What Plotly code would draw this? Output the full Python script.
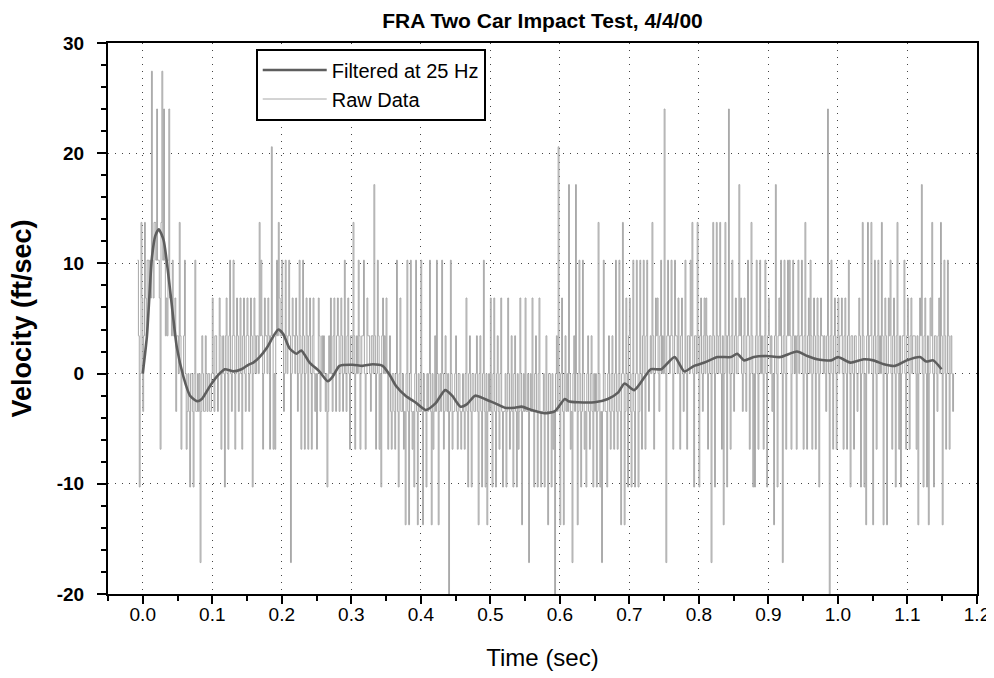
import plotly.graph_objects as go

# ---------------- data ----------------
title_text = "FRA Two Car Impact Test, 4/4/00"
x_title = "Time (sec)"
y_title = "Velocity (ft/sec)"
y_tickvals = [-20, -10, 0, 10, 20, 30]
y_ticktext = ["-20", "-10", "0", "10", "20", "30"]

# Raw velocity, quantized in counts (1 count = COUNT_FT_S ft/sec)
COUNT_FT_S = 3.43
raw_t0 = -0.0075    # sec, first sample time
raw_dt = 0.00125    # sec, sample spacing
raw_counts = [
    3, 1, -3, 0, 4, 2,
    -1, 1, 4, 2, 1, 3, 3, 2,      3, 2, 8, 3, 2, 4, 4, 3,
    7, 3, 3, 2, -2, 4, 8, 3,      7, 3, 1, 2, 1, 3, 7, 2,
    2, 1, 3, 1, 1, 2, -1, 1,      1, 0, 4, 1, -2, 0, 0, 1,
    3, 0, -2, -1, 0, -1, -3, 0,   0, -1, -3, 0, 3, -1, -1, 0,
    -1, 0, -5, -1, 1, 0, -1, -1,  1, 0, -1, 0, 0, -1, -1, 0,
    2, 0, -1, 1, 1, 0, -1, 0,     2, 1, -2, 0, 1, 0, -3, 1,
    2, 0, -2, 1, 3, 0, -1, 1,     3, 1, -2, 0, 2, 1, -1, 0,
    2, 0, -2, 1, 2, 0, -1, 1,     2, 1, -1, 0, 2, 1, -3, 0,
    2, 1, 0, 1, 1, 0, 4, 1,       3, 1, -2, 0, 2, 1, 1, 0,
    2, 1, -2, 1, 6, 1, -2, 0,     -2, 1, 3, 1, 4, 2, 1, 1,
    3, 1, -1, 0, 3, 1, 0, 1,      3, 1, -5, 0, 2, 1, 1, 0,
    2, 1, -1, 0, 3, 1, -2, 0,     3, 1, -2, 0, 2, 1, -2, 1,
    2, 0, -2, 1, 2, 0, -1, 0,     -2, 0, 2, 1, -1, 0, 1, 0,
    1, 0, -1, 0, -3, -1, 1, 0,    2, 0, -1, 1, 2, 0, -1, 1,
    2, 1, -1, 0, 2, 1, -1, 0,     3, 0, -1, 1, 2, 0, -2, 1,
    1, 0, 4, 1, -2, 0, 1, 0,      3, 1, -2, 0, 1, 1, 3, 0,
    -2, 0, 2, 1, 1, 0, -1, 1,     1, 0, 5, 1, -2, 0, 3, 1,
    -2, 0, -3, 1, 2, 0, 1, 0,     2, 0, -2, 0, 1, -1, -2, 0,
    0, -1, -2, 0, 3, -1, -3, 0,   2, -1, -1, 0, -2, -1, -4, 0,
    3, -1, -4, 0, 3, -1, -2, -1,  -3, 0, 3, -1, -4, 0, -1, -1,
    3, -1, -4, 0, -1, -1, -3, 0,  -1, 0, 3, -1, -4, 0, -2, -1,
    1, -1, 3, 0, -4, -1, 0, -1,   3, 0, -2, -1, 1, 0, -1, 0,
    -6, -1, 3, 0, -2, -1, -1, 0,  1, -1, -2, 0, 0, -1, -2, -1,
    0, -1, -2, 0, 2, -1, -3, 0,   1, -1, -3, 0, 0, -1, -1, 0,
    1, -1, -4, 0, 1, -1, -3, 0,   3, -1, -3, 0, -4, -1, 0, -1,
    2, -1, -3, 0, 2, -1, -3, 0,   1, -1, -2, 0, 2, -1, -3, -1,
    -1, 0, -3, -1, 2, 0, -2, -1,  1, -1, -3, 0, 1, -1, -3, 0,
    -2, -1, 2, 0, -4, -1, 0, -1,  2, -1, -1, 0, -5, -1, 0, -1,
    2, -1, -3, 0, 1, -1, -3, 0,   2, -1, -3, -1, -1, 0, -3, -1,
    1, -1, -4, 0, 0, -1, -3, 0,   -2, -1, -6, 0, 1, -1, 6, 0,
    -4, 0, 2, -1, -4, 0, 1, -1,   0, -1, 5, 0, -2, -1, -5, 0,
    1, -1, 5, 0, -4, -1, 3, 0,    -3, -1, 3, 0, -2, -1, -3, 0,
    1, -1, -2, 0, 1, -1, -3, 0,   -1, 0, -3, -1, 4, 0, -3, -1,
    -5, -1, 3, 0, -1, -1, -3, 0,  1, -1, -2, 0, 1, -1, -2, 0,
    3, -1, -2, 0, 3, -1, -4, 0,   4, 0, -4, -1, 2, 0, -3, 1,
    2, -1, -3, 0, 3, -1, -3, 0,   3, 0, -3, -1, 3, 0, -2, 1,
    3, 0, -2, 1, 3, 0, -1, 0,     1, 0, 4, 1, -2, 0, 2, 1,
    2, 0, -1, 1, 3, 0, 1, 0,      7, 0, -5, 1, 3, 1, 0, 1,
    3, 1, -2, 0, 3, 1, 1, 0,      2, 0, -2, 1, 2, 0, -1, 0,
    3, 0, -2, 1, 1, 0, 3, 1,      4, 0, -3, 1, 1, 0, 4, 1,
    -3, 1, 2, 0, -1, 1, 2, 0,     2, 1, -2, 0, 1, 1, -5, 0,
    4, 1, -3, 0, 4, 1, 0, 1,      4, 0, -2, 1, -4, 0, 4, 1,
    -3, 1, 7, 0, -2, 1, 3, 0,     -1, 1, 2, 0, 0, 1, 5, 1,
    2, 0, -1, 1, 2, 0, -1, 1,     3, 1, -2, 0, 4, 1, -3, 0,
    -3, 1, 3, 0, -2, 1, 3, 0,     1, 0, -2, 1, 3, 0, -3, 1,
    2, 1, 0, 1, -1, 0, -4, 1,     5, 0, -3, 1, 2, 1, 3, 0,
    -5, 1, 3, 0, -2, 1, 3, 1,     3, 1, -2, 0, 3, 1, 0, 1,
    -2, 1, 3, 0, 1, 1, 3, 0,      -2, 1, 4, 0, -2, 1, 2, 0,
    3, 1, -2, 0, 2, 1, -2, 0,     2, 1, -3, 0, 2, 1, 1, 0,
    1, 0, -1, 1, 7, 0, -6, 1,     3, 0, -2, 1, 2, 0, -2, 1,
    2, 0, 1, 1, 2, 0, -2, 1,      2, 0, -2, 1, 3, 0, -3, 1,
    1, 0, -2, 1, 1, 0, -1, 0,     2, 1, -3, 0, 4, 1, -3, 0,
    -4, 1, 4, 0, 1, 1, 4, 0,      -4, 1, 3, 0, -2, 1, 3, 0,
    1, 0, 4, 1, -4, 0, 2, 1,      -4, 0, 2, 1, 3, 0, -2, 1,
    2, 0, -3, 1, 4, 0, -2, 1,     -3, 0, 1, 1, 3, 0, -2, 1,
    2, 0, -2, 1, 2, 0, 1, 1,      1, 0, -2, 1, -4, 0, 2, 1,
    5, 0, -3, 1, 2, 0, -3, 1,     -4, 0, 2, 1, 4, 0, -3, 1,
    1, 0, -1, 1, 2, 0, 4, 1,      -4, 0, 3, 1, -2, 0, 3, 1,
    -2, 0, 1, 0, -1, 0,
]

# Filtered (25 Hz) velocity
filt_t = [0.000, 0.006, 0.013, 0.018, 0.023, 0.030, 0.040, 0.049, 0.059, 0.068,
          0.078, 0.085, 0.097, 0.109, 0.118, 0.130, 0.142, 0.152, 0.159, 0.168,
          0.178, 0.188, 0.195, 0.202, 0.211, 0.221, 0.228, 0.240, 0.254, 0.266,
          0.273, 0.283, 0.302, 0.316, 0.331, 0.345, 0.355, 0.364, 0.378, 0.392,
          0.407, 0.421, 0.435, 0.445, 0.457, 0.466, 0.478, 0.492, 0.507, 0.521,
          0.535, 0.545, 0.559, 0.578, 0.593, 0.607, 0.612, 0.626, 0.650, 0.669,
          0.684, 0.693, 0.707, 0.722, 0.731, 0.746, 0.765, 0.779, 0.793, 0.808,
          0.827, 0.846, 0.855, 0.865, 0.879, 0.898, 0.917, 0.941, 0.956, 0.970,
          0.990, 1.000, 1.018, 1.037, 1.051, 1.066, 1.082, 1.099, 1.118, 1.127,
          1.137, 1.149]
filt_v = [0.0, 3.4, 10.4, 12.5, 13.1, 12.1, 7.2, 2.4, -0.4, -2.0,
          -2.5, -2.3, -1.1, -0.1, 0.4, 0.2, 0.4, 0.8, 1.0, 1.5,
          2.3, 3.4, 4.0, 3.6, 2.3, 1.8, 2.1, 1.0, 0.2, -0.7,
          -0.3, 0.7, 0.8, 0.7, 0.85, 0.7, -0.1, -1.1, -2.0, -2.6,
          -3.3, -2.7, -1.5, -2.0, -3.0, -2.8, -2.0, -2.3, -2.7, -3.1,
          -3.1, -3.0, -3.3, -3.6, -3.4, -2.3, -2.5, -2.6, -2.6, -2.3,
          -1.7, -0.9, -1.5, -0.3, 0.4, 0.4, 1.5, 0.2, 0.7, 1.0,
          1.5, 1.5, 1.8, 1.2, 1.5, 1.6, 1.5, 2.0, 1.6, 1.3,
          1.2, 1.5, 1.0, 1.3, 1.2, 0.85, 0.7, 1.2, 1.5, 1.1,
          1.2, 0.4]

x_range = [-0.05, 1.2]
y_range = [-20, 30]

# ---------------- figure ----------------
raw_t = [raw_t0 + i * raw_dt for i in range(len(raw_counts))]
raw_v = [c * COUNT_FT_S for c in raw_counts]

FONT = "Arial, Liberation Sans, Helvetica, sans-serif"

fig = go.Figure()
fig.add_trace(go.Scatter(
    x=raw_t, y=raw_v, mode="lines", name="Raw Data",
    line=dict(color="#a8a8a8", width=1, shape="hv", simplify=False),
    showlegend=True))
fig.add_trace(go.Scatter(
    x=filt_t, y=filt_v, mode="lines", name="Filtered at 25 Hz",
    line=dict(color="#5e5e5e", width=2.6, shape="spline", smoothing=0.6)))

axis_common = dict(tickcolor="black", tickwidth=1.5)

fig.update_layout(
    width=994, height=678,
    margin=dict(l=100, r=19, t=35, b=92),
    paper_bgcolor="white", plot_bgcolor="white",
    font=dict(family=FONT, color="black"),
    title=dict(text="<b>" + title_text + "</b>", x=0.5, xref="paper",
               y=1 - 13 / 678, yref="container", yanchor="middle",
               font=dict(size=21, family=FONT)),
    showlegend=True,
    legend=dict(x=0.17, y=0.99, xanchor="left", yanchor="top",
                bordercolor="black", borderwidth=2, bgcolor="white",
                font=dict(size=20, family=FONT), traceorder="reversed",
                itemwidth=64),
    xaxis=dict(range=x_range, dtick=0.1, tick0=0, tickformat=".1f",
               ticks="outside", ticklen=8, showline=True, linecolor="black",
               linewidth=2, mirror=True, showgrid=True, gridcolor="#444",
               griddash="1px,6px", gridwidth=1, zeroline=False,
               tickfont=dict(size=19), ticklabelstandoff=-6,
               minor=dict(dtick=0.05, tick0=0, ticks="outside", ticklen=5,
                          tickcolor="black", showgrid=False),
               title=dict(text=x_title, font=dict(size=24), standoff=25),
               **axis_common),
    yaxis=dict(range=y_range, tickmode="array", tickvals=y_tickvals,
               ticktext=y_ticktext,
               ticks="outside", ticklen=9, showline=True, linecolor="black",
               linewidth=2, mirror=True, showgrid=True, gridcolor="#444",
               griddash="1px,6px", gridwidth=1, zeroline=False,
               tickfont=dict(size=19, weight="bold"), ticklabelstandoff=9,
               minor=dict(dtick=2, tick0=0, ticks="outside", ticklen=5,
                          tickcolor="black", showgrid=False),
               **axis_common),
    xaxis2=dict(overlaying="x", matches="x", range=x_range, anchor="y",
                dtick=0.1, tick0=0, ticks="inside", ticklen=8,
                showticklabels=False, showgrid=False, showline=False,
                zeroline=False,
                minor=dict(dtick=0.05, tick0=0, ticks="inside", ticklen=5,
                           tickcolor="black", showgrid=False),
                **axis_common),
    yaxis2=dict(overlaying="y", matches="y", range=y_range, anchor="x",
                side="left", dtick=10, tick0=0, ticks="inside", ticklen=9,
                showticklabels=False, showgrid=False, showline=False,
                zeroline=False,
                minor=dict(dtick=2, tick0=0, ticks="inside", ticklen=5,
                           tickcolor="black", showgrid=False),
                **axis_common),
    annotations=[dict(text="<b>" + y_title + "</b>", textangle=-90,
                      xref="paper", yref="paper", x=-0.1, y=0.5,
                      xanchor="center", yanchor="middle", showarrow=False,
                      font=dict(size=27, family=FONT))],
)

fig.write_html("out.html")
